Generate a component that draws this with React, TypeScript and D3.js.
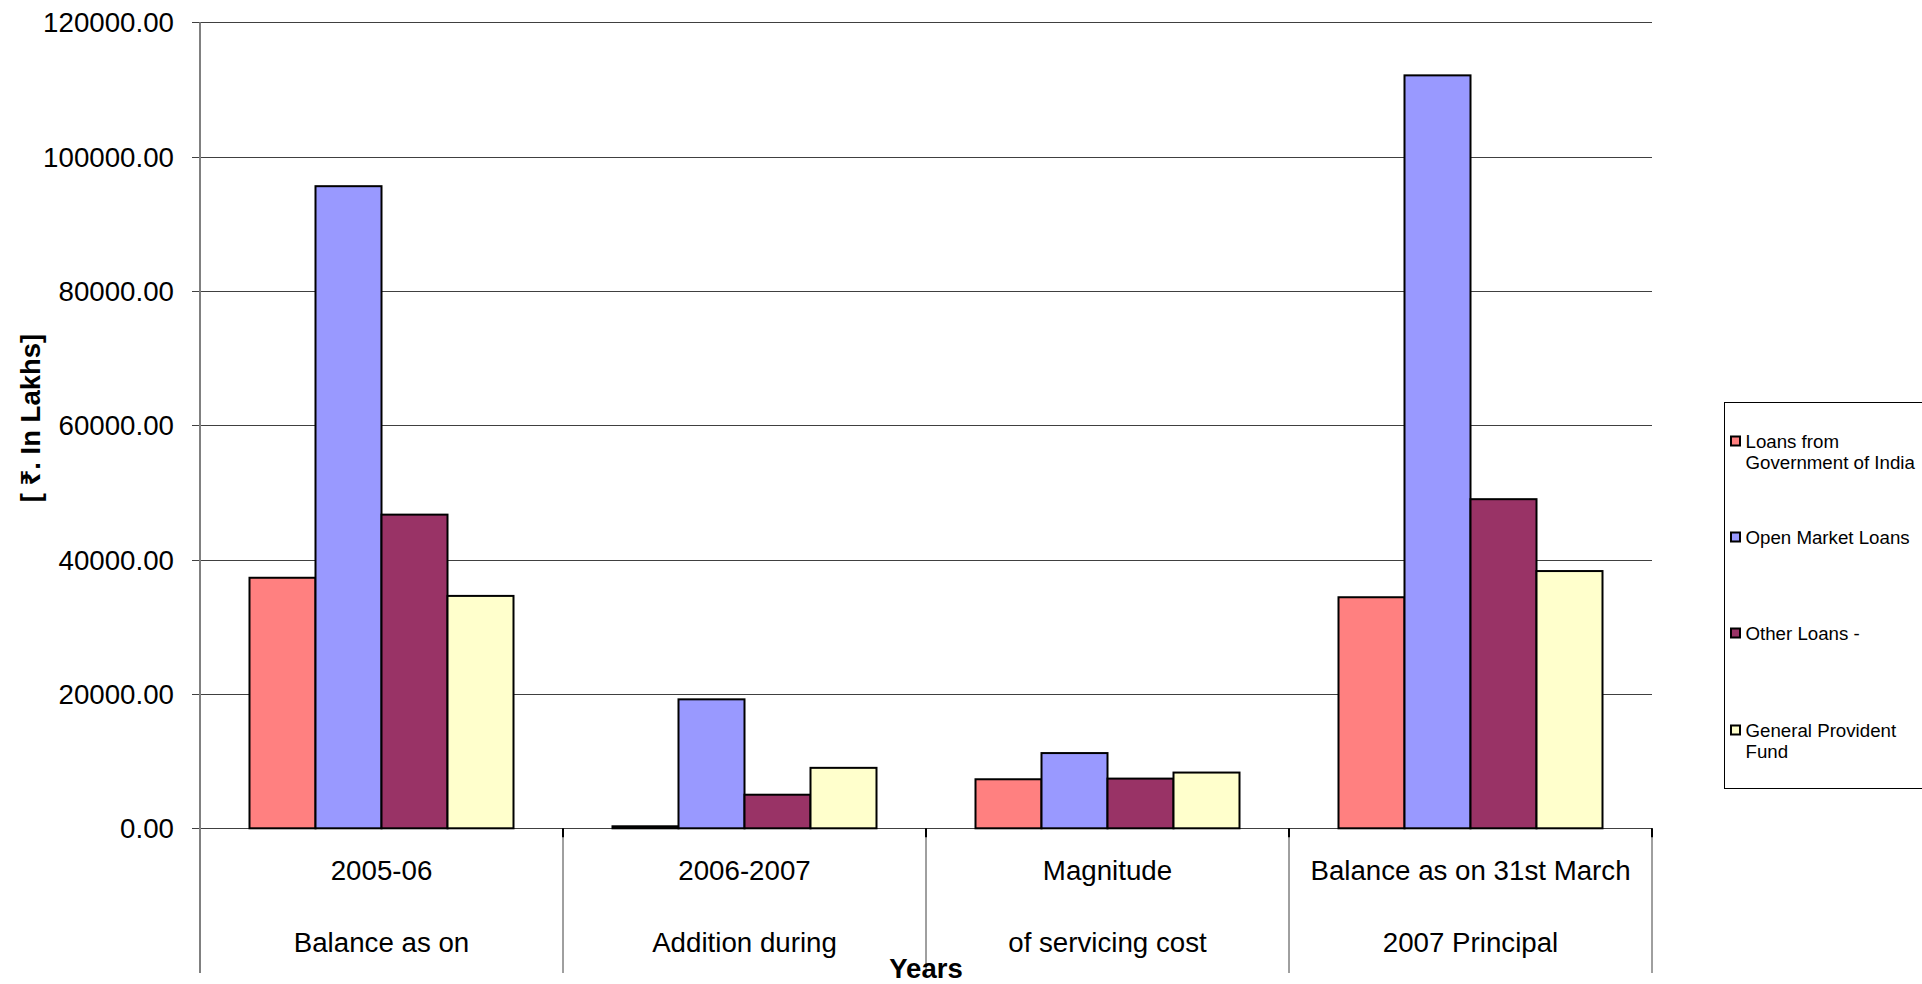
import React from "react";
import * as d3 from "d3";

const categoryLine1 = ["2005-06", "2006-2007", "Magnitude", "Balance as on 31st March"];
const categoryLine2 = ["Balance as on", "Addition during", "of servicing cost", "2007 Principal"];
const categoryKeys = ["c0", "c1", "c2", "c3"];

const seriesNames = [
  "Loans from Government of India",
  "Open Market Loans",
  "Other Loans -",
  "General Provident Fund",
];
const legendLines = [
  ["Loans from", "Government of India"],
  ["Open Market Loans"],
  ["Other Loans -"],
  ["General Provident", "Fund"],
];

const loansFromGOI = [37300, 300, 7300, 34400];
const openMarketLoans = [95600, 19200, 11200, 112100];
const otherLoans = [46700, 5000, 7400, 49000];
const generalProvidentFund = [34600, 9000, 8300, 38300];
const seriesValues = [loansFromGOI, openMarketLoans, otherLoans, generalProvidentFund];

const seriesColors = ["#FF8080", "#9999FF", "#993366", "#FFFFCC"];
const yTicks = [0, 20000, 40000, 60000, 80000, 100000, 120000];

const yTitle = "[ \u20B9. In Lakhs]";
const xTitle = "Years";

const FONT = "'Liberation Sans', Arial, 'Noto Sans', 'DejaVu Sans', sans-serif";

export default function App() {
  const W = 1922;
  const H = 984;
  const left = 200;
  const right = 1652;
  const top = 22.3;
  const zeroY = 828.3;
  const axisBottom = 973;

  const x0 = d3.scaleBand<string>().domain(categoryKeys).range([left, right]).paddingInner(0).paddingOuter(0);
  const x1 = d3
    .scaleBand<string>()
    .domain(seriesNames)
    .range([0, x0.bandwidth()])
    .paddingInner(0)
    .paddingOuter(0.75);
  const y = d3.scaleLinear().domain([0, 120000]).range([zeroY, top]);

  const fmt = d3.format(".2f");
  const boundaries = categoryKeys.map((k) => x0(k)!).concat([right]);

  const legendX = 1724.5;
  const legendY = 402.5;
  const legendItemY = [441, 537, 633, 730];

  return (
    <div style={{ position: "absolute", left: 0, top: 0, width: W, height: H, overflow: "hidden" }}>
      <svg width={W} height={H} style={{ display: "block", background: "#fff" }} fontFamily={FONT}>
        {yTicks.map((t) => (
          <line
            key={"g" + t}
            x1={left - 8}
            x2={right}
            y1={Math.round(y(t)) + 0.5}
            y2={Math.round(y(t)) + 0.5}
            stroke="#404040"
            strokeWidth={1}
          />
        ))}
        {yTicks.map((t) => (
          <text key={"t" + t} x={174} y={y(t)} dy="0.36em" textAnchor="end" fontSize={27.7} fill="#000">
            {fmt(t)}
          </text>
        ))}
        {categoryKeys.map((k, ci) =>
          seriesNames.map((s, si) => {
            const v = seriesValues[si][ci];
            const bx = x0(k)! + x1(s)!;
            return (
              <rect
                key={k + s}
                x={bx}
                y={y(v)}
                width={x1.bandwidth()}
                height={zeroY - y(v)}
                fill={seriesColors[si]}
                stroke="#000"
                strokeWidth={2}
              />
            );
          })
        )}
        {boundaries.map((b, i) => (
          <g key={"s" + i}>
            <line
              x1={b}
              x2={b}
              y1={zeroY}
              y2={axisBottom}
              stroke={i === 0 ? "#808080" : "#404040"}
              strokeWidth={i === 0 ? 2 : 1}
            />
            <line x1={b} x2={b} y1={zeroY} y2={zeroY + 9} stroke="#000" strokeWidth={2} />
          </g>
        ))}
        <line x1={left} x2={left} y1={top} y2={axisBottom} stroke="#808080" strokeWidth={2} />
        {categoryKeys.map((k, ci) => {
          const cx = x0(k)! + x0.bandwidth() / 2;
          return (
            <g key={"cl" + k}>
              <text x={cx} y={880} textAnchor="middle" fontSize={27.7} fill="#000">
                {categoryLine1[ci]}
              </text>
              <text x={cx} y={952} textAnchor="middle" fontSize={27.7} fill="#000">
                {categoryLine2[ci]}
              </text>
            </g>
          );
        })}
        <text x={(left + right) / 2} y={978} textAnchor="middle" fontSize={27.5} fontWeight="bold" fill="#000">
          {xTitle}
        </text>
        <text
          transform={`translate(30, 418) rotate(-90)`}
          textAnchor="middle"
          dy="0.36em"
          fontSize={27.5}
          fontWeight="bold"
          fill="#000"
        >
          {yTitle}
        </text>
        <rect x={legendX} y={legendY} width={260} height={386} fill="#fff" stroke="#000" strokeWidth={1} />
        {seriesNames.map((s, si) => {
          const cy = legendItemY[si];
          return (
            <g key={"l" + s}>
              <rect
                x={1731}
                y={cy - 4.5}
                width={9}
                height={9}
                fill={seriesColors[si]}
                stroke="#000"
                strokeWidth={2}
              />
              {legendLines[si].map((ln, li) => (
                <text key={li} x={1745.5} y={cy + 6.5 + li * 21} fontSize={18.7} fill="#000">
                  {ln}
                </text>
              ))}
            </g>
          );
        })}
      </svg>
    </div>
  );
}
